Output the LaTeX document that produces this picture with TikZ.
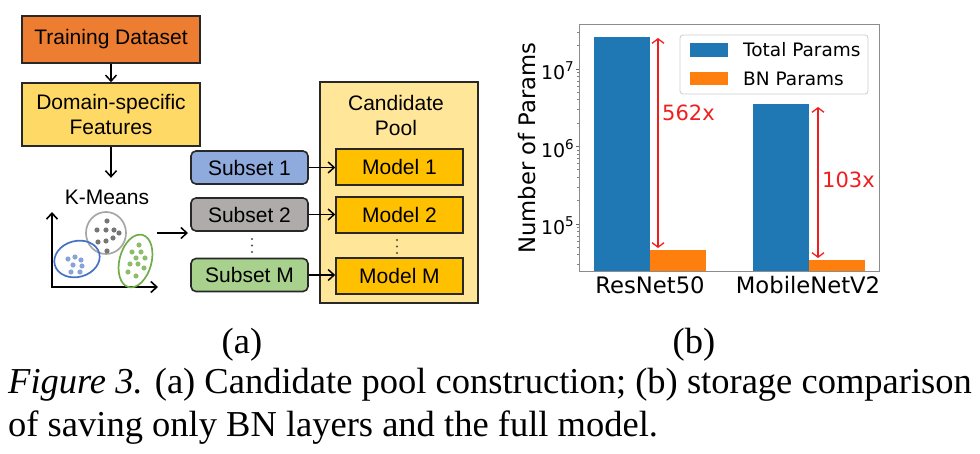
\documentclass[tikz,border=0pt]{standalone}
\usepackage{fontspec}
\setmainfont{Liberation Serif}
\newfontfamily\arialf{Liberation Sans}
\newfontfamily\dejavuf{DejaVu Sans}
\usetikzlibrary{arrows.meta}
\definecolor{tdorange}{RGB}{237,125,49}
\definecolor{dsfyellow}{RGB}{255,217,102}
\definecolor{poolyellow}{RGB}{255,230,153}
\definecolor{modelgold}{RGB}{255,192,0}
\definecolor{subblue}{RGB}{143,170,220}
\definecolor{subgray}{RGB}{175,171,171}
\definecolor{subgreen}{RGB}{169,209,142}
\definecolor{elblue}{RGB}{68,114,196}
\definecolor{elgreen}{RGB}{112,173,71}
\definecolor{elgray}{RGB}{166,166,166}
\definecolor{dotgray}{RGB}{118,118,118}
\definecolor{mplblue}{RGB}{31,119,180}
\definecolor{mplorange}{RGB}{255,127,14}
\definecolor{boxline}{RGB}{40,40,40}
\definecolor{mplred}{RGB}{240,30,30}
\tikzset{
  barbtip/.tip={Straight Barb[length=6pt,width=11pt]},
  redtip/.tip={Straight Barb[length=4.5pt,width=12pt]}
}
\begin{document}
\begin{tikzpicture}[x=1pt,y=-1pt,
  box/.style={draw=boxline, line width=1.6pt, align=center, inner sep=0pt,
    font=\arialf\fontsize{21}{25}\selectfont},
  subbox/.style={box, rounded corners=5pt, minimum width=117pt, minimum height=33pt},
  modelbox/.style={box, fill=modelgold, minimum width=127pt, minimum height=36pt},
  flow/.style={line width=1.5pt, draw=black, -{barbtip}},
  ratio/.style={line width=1.3pt, draw=mplred, {redtip}-{redtip}},
  chartlbl/.style={font=\dejavuf\fontsize{22.7}{26}\selectfont},
  ticklbl/.style={font=\dejavuf\fontsize{19}{22}\selectfont, anchor=east, inner sep=0pt},
  legtxt/.style={font=\dejavuf\fontsize{18.5}{22}\selectfont, anchor=west, inner sep=0pt},
  redlbl/.style={font=\dejavuf\fontsize{21}{24}\selectfont, text=mplred, anchor=west, inner sep=0pt},
  captxt/.style={font=\fontsize{36.5}{42}\selectfont, inner sep=0pt},
  kdot/.style={radius=2.6pt}
]
\useasboundingbox (0,0) rectangle (980,454);

% ---------- (a) ----------
\node[box, fill=tdorange, minimum width=178pt, minimum height=47pt] (td) at (111,39.5) {Training Dataset};
\node[box, fill=dsfyellow, minimum width=178pt, minimum height=63pt] (dsf) at (111,114.5) {Domain-specific\\Features};
\node[font=\arialf\fontsize{21}{25}\selectfont, inner sep=0pt] (km) at (107,197) {K-Means};
\draw[flow] (td) -- (dsf);
\draw[flow] (dsf.south) -- ++(0,31);

% scatter axes
\coordinate (axy) at (52,212);
\coordinate (ax0) at (52,287);
\coordinate (axx) at (158,287);
\draw[line width=1.6pt, {barbtip}-{barbtip}] (axy) -- (ax0) -- (axx);

% clusters
\draw[elgray, line width=1.7pt] (106,233) ellipse (20 and 21);
\foreach \p in {(107,221),(97,230),(106,230),(114,230),(119,233),(98,242),(106,241),(113,238),(107,251)}
  \fill[dotgray] \p circle[kdot];
\draw[elblue, line width=1.7pt, rotate around={15:(77,259)}] (77,259) ellipse (23 and 18);
\foreach \p in {(68,259),(75,257),(81,260),(73,265),(82,266),(71,272),(80,272)}
  \fill[subblue!90!elblue] \p circle[kdot];
\draw[elgreen, line width=1.7pt, rotate around={-15:(135.5,261)}] (135.5,261) ellipse (16 and 27);
\foreach \p in {(139,245),(132,252),(141,252),(136,258),(145,258),(130,264),(138,264),(144,268),(128,272),(136,276)}
  \fill[elgreen!80] \p circle[kdot];

% subsets
\node[subbox, fill=subblue] (s1) at (249.5,167.5) {Subset 1};
\node[subbox, fill=subgray] (s2) at (249.5,214.5) {Subset 2};
\node[subbox, fill=subgreen] (sM) at (249.5,275) {Subset M};
\foreach \yy in {239,245.5,252} \fill[black!70] (252,\yy) circle (1.2);

\coordinate (kmA) at (157,233);
\coordinate (kmB) at (188,233);
\draw[flow] (kmA) -- (kmB);

% candidate pool
\node[box, fill=poolyellow, minimum width=158pt, minimum height=221pt] (pool) at (399,192.5) {};
\node[font=\arialf\fontsize{21}{25}\selectfont, align=center, inner sep=0pt] (pooltxt) at (396,115.5) {Candidate\\Pool};
\node[modelbox] (m1) at (399.5,167) {Model 1};
\node[modelbox] (m2) at (399.5,215) {Model 2};
\node[modelbox] (mM) at (399.5,276) {Model M};
\foreach \yy in {240,246.5,253} \fill[black!70] (397,\yy) circle (1.2);

\draw[flow] (s1.east) -- (s1.east -| m1.west);
\draw[flow] (s2.east) -- (s2.east -| m2.west);
\draw[flow] (sM.east) -- (sM.east -| mM.west);

% ---------- (b) ----------
% bars
\fill[mplblue] (594,37.4) rectangle (650,272);
\fill[mplorange] (650,250.5) rectangle (706,272);
\fill[mplblue] (753,104.3) rectangle (809,272);
\fill[mplorange] (809,260) rectangle (865,272);
% frame
\draw[black!45, line width=1pt] (579,25) rectangle (879,272);
% major ticks
\foreach \yy in {69,146.5,224} \draw[black!60, line width=0.9pt] (579,\yy) -- (575.5,\yy);
% minor ticks
\foreach \yy in {264.5,254.8,247.3,241.2,236,231.5,227.6,
                 200.7,187,177.3,169.8,163.7,158.5,154,150.1,
                 123.2,109.5,99.8,92.3,86.2,81,76.5,72.6,
                 45.7,32}
  \draw[black!50, line width=0.7pt] (579,\yy) -- (577,\yy);
\node[ticklbl] (t7) at (574,71) {10\raisebox{0.42em}{\fontsize{13.5}{14}\selectfont 7}};
\node[ticklbl] (t6) at (574,148.5) {10\raisebox{0.42em}{\fontsize{13.5}{14}\selectfont 6}};
\node[ticklbl] (t5) at (574,226) {10\raisebox{0.42em}{\fontsize{13.5}{14}\selectfont 5}};
\node[chartlbl, rotate=90] (ylab) at (527,148) {Number of Params};
\node[chartlbl] (xl1) at (650,285) {ResNet50};
\node[chartlbl] (xl2) at (808,285) {MobileNetV2};

% legend
\draw[black!20, line width=0.8pt, fill=white, rounded corners=3pt] (680,35) rectangle (868,94);
\fill[mplblue] (690,43) rectangle (728,57);
\fill[mplorange] (690,72) rectangle (728,85);
\node[legtxt] (lg1) at (743,50) {Total Params};
\node[legtxt] (lg2) at (743,78.5) {BN Params};

% ratio arrows
\coordinate (r1t) at (658,38);
\coordinate (r1b) at (658,248);
\coordinate (r2t) at (818,107);
\coordinate (r2b) at (818,258);
\draw[ratio] (r1t) -- (r1b);
\draw[ratio] (r2t) -- (r2b);
\node[redlbl] (l562) at (662,113) {562x};
\node[redlbl] (l103) at (822,180) {103x};

% ---------- captions ----------
\node[captxt, anchor=base] (capa) at (242,353) {(a)};
\node[captxt, anchor=base] (capb) at (694,353) {(b)};
\node[captxt, anchor=base west] (cap1) at (8,393) {\textit{Figure 3.} (a) Candidate pool construction; (b) storage comparison};
\node[captxt, anchor=base west] (cap2) at (8,436) {of saving only BN layers and the full model.};
\end{tikzpicture}
\end{document}
